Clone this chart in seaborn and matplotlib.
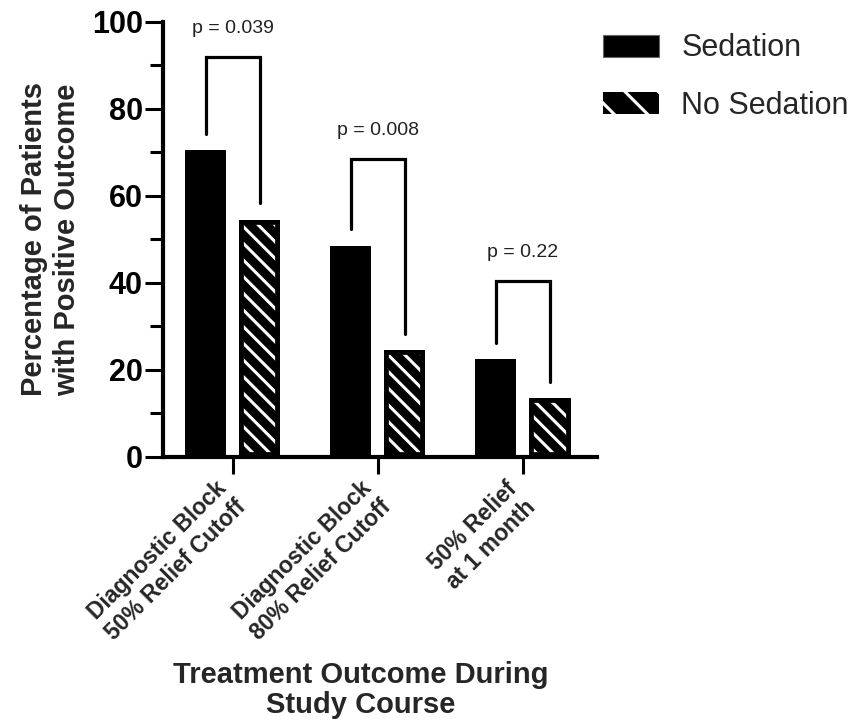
import numpy as np
import pandas as pd
import matplotlib
matplotlib.use("Agg")
import matplotlib.pyplot as plt
from matplotlib.patches import Patch, Rectangle
from matplotlib.ticker import MultipleLocator
import seaborn as sns

# values
outcomes = ["Diagnostic Block\n50% Relief Cutoff",
            "Diagnostic Block\n80% Relief Cutoff",
            "50% Relief\nat 1 month"]
groups = ["Sedation", "No Sedation"]
sedation = [70.5, 48.5, 22.5]
no_sedation = [54.5, 24.5, 13.5]
p_labels = ["p = 0.039", "p = 0.008", "p = 0.22"]
bracket_tops = [92.0, 68.5, 40.5]
leg_gap = 3.8

sns.set_theme(style="ticks")
plt.rcParams["font.family"] = ["Liberation Sans", "DejaVu Sans"]
plt.rcParams["hatch.color"] = "white"
plt.rcParams["hatch.linewidth"] = 2.2

df = pd.DataFrame({
    "outcome": outcomes * 2,
    "group": [groups[0]] * len(outcomes) + [groups[1]] * len(outcomes),
    "pct": sedation + no_sedation,
})

fig = plt.figure(figsize=(8.56, 7.25), dpi=100)
ax = fig.add_axes([0.1904, 0.3697, 0.507, 0.6])
sns.barplot(data=df, x="outcome", y="pct", hue="group", hue_order=groups,
            palette=["black", "black"], saturation=1, width=0.745, gap=0.24,
            linewidth=0, legend=False, ax=ax)

# hatched bars: white hatch on black, thick black border kept inside the bar
for bar in ax.containers[1]:
    bar.set_facecolor("black")
    bar.set_edgecolor("white")
    bar.set_hatch("\\\\")
    bar.set_linewidth(0)
    rim = Rectangle((bar.get_x(), bar.get_y()), bar.get_width(), bar.get_height(),
                    fill=False, edgecolor="black", lw=7)
    ax.add_patch(rim)
    rim.set_clip_path(bar)

# significance brackets
for i, (b0, b1) in enumerate(zip(ax.containers[0], ax.containers[1])):
    x0 = b0.get_x() + b0.get_width() / 2
    x1 = b1.get_x() + b1.get_width() / 2
    top = bracket_tops[i]
    ax.plot([x0, x0, x1, x1],
            [sedation[i] + leg_gap, top, top, no_sedation[i] + leg_gap],
            color="black", lw=2.3, solid_joinstyle="miter", clip_on=False)
    ax.text((x0 + x1) / 2, top + 4.5, p_labels[i], ha="center", va="bottom",
            fontsize=14, color="#222222")

ax.set_ylim(0, 100)
ax.set_xlim(-0.48, 2.51)
ax.yaxis.set_major_locator(MultipleLocator(20))
ax.yaxis.set_minor_locator(MultipleLocator(10))
ax.tick_params(axis="y", which="major", length=13, width=2.2, labelsize=22, pad=1.5,
               color="black", labelcolor="black")
ax.tick_params(axis="y", which="minor", length=9.5, width=2.2, color="black")
ax.tick_params(axis="x", length=12, width=2.2, pad=15, color="black")
plt.setp(ax.get_yticklabels(), fontweight="bold")
ax.set_xticks(range(len(outcomes)))
ax.set_xticklabels(outcomes, rotation=45, ha="right", va="center",
                   rotation_mode="anchor", fontsize=16.5, fontweight="bold")

sns.despine(ax=ax)
for side in ["left", "bottom"]:
    ax.spines[side].set_linewidth(3)
    ax.spines[side].set_color("black")

ax.set_ylabel("Percentage of Patients\nwith Positive Outcome",
              fontsize=21, fontweight="bold", labelpad=8)
ax.set_xlabel("Treatment Outcome During\nStudy Course", fontsize=21,
              fontweight="bold", linespacing=1.1)
ax.xaxis.set_label_coords(0.456, -0.468)

handles = [Patch(facecolor="black", edgecolor="#666666", lw=0.8),
           Patch(facecolor="black", edgecolor="white", hatch="\\", lw=0)]
fig.legend(handles, groups, loc="upper left", bbox_to_anchor=(0.704, 0.954),
           frameon=False, fontsize=22, handlelength=1.83, handleheight=0.75,
           handletextpad=0.75, labelspacing=0.9, borderpad=0, borderaxespad=0)

fig.savefig("out.png", dpi=100)
